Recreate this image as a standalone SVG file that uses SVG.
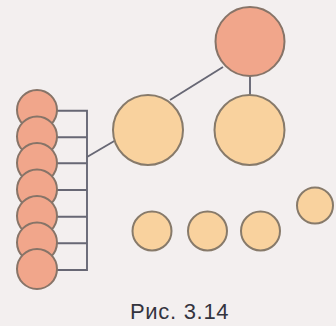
<svg xmlns="http://www.w3.org/2000/svg" width="336" height="326" viewBox="0 0 336 326">
<style>
.red{fill:#f1a68b;stroke:#877468;stroke-width:2}
.yel{fill:#f9d29e;stroke:#877a6a;stroke-width:2}
.ln{stroke:#676774;stroke-width:1.9;fill:none}
.cap{font-family:"Liberation Sans",Arial,sans-serif;font-size:22px;fill:#34343e;letter-spacing:0.7px}
</style>
<rect width="336" height="326" fill="#f3efef"/>
<g id="connectors">
<path class="ln" d="M57 110.7H87V270H57M57 137.3H87M57 163.3H87M57 190H87M57 216.7H87M57 243.3H87"/>
<path class="ln" d="M87 157L116 140"/>
<path class="ln" d="M170 100L223 67"/>
<path class="ln" d="M250 76V95"/>
</g>
<g id="col1"><circle class="red" cx="37" cy="110" r="20"/></g>
<g id="col2"><circle class="red" cx="37" cy="136.5" r="20"/></g>
<g id="col3"><circle class="red" cx="37" cy="163" r="20"/></g>
<g id="col4"><circle class="red" cx="37" cy="189.5" r="20"/></g>
<g id="col5"><circle class="red" cx="37" cy="216" r="20"/></g>
<g id="col6"><circle class="red" cx="37" cy="242.5" r="20"/></g>
<g id="col7"><circle class="red" cx="37" cy="269" r="20"/></g>
<g id="top"><circle class="red" cx="250" cy="41.5" r="34.5"/></g>
<g id="midLeft"><circle class="yel" cx="148" cy="130" r="35"/></g>
<g id="midRight"><circle class="yel" cx="249.5" cy="130" r="35"/></g>
<g id="s1"><circle class="yel" cx="152" cy="231" r="19.5"/></g>
<g id="s2"><circle class="yel" cx="207.5" cy="231" r="19.5"/></g>
<g id="s3"><circle class="yel" cx="260.5" cy="231" r="19.5"/></g>
<g id="s4"><circle class="yel" cx="315" cy="205.5" r="18"/></g>
<text class="cap" x="130" y="319">Рис. 3.14</text>
</svg>
